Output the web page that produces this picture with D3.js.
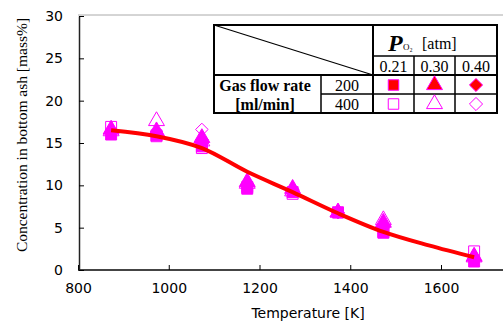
<!DOCTYPE html>
<html>
<head>
<meta charset="utf-8">
<script src="https://cdn.jsdelivr.net/npm/d3@7"></script>
<style>
  body { margin: 0; background: #fff; }
  svg text { fill: #000; }
</style>
</head>
<body>
<svg width="503" height="323"></svg>
<script>
// Temperatures of the runs [K]
const temps = [873, 973, 1073, 1173, 1273, 1373, 1473, 1673];

// Concentration in bottom ash [mass%], one list per run condition
const sq200 = [16.0, 15.9, 14.6, 9.6, 9.2, 6.8, 4.4, 1.0];
const tri200 = [16.6, 16.4, 15.6, 10.4, 9.6, 6.8, 5.6, 1.6];
const dia200 = [16.2, 16.1, 15.4, 10.1, 9.4, 6.8, 5.0, 1.3];
const sq400 = [16.9, 15.8, 14.4, 9.8, 9.0, 6.8, 4.5, 2.2];
const tri400 = [16.4, 17.6, 15.2, 10.2, 9.3, 6.8, 5.9, 1.5];
const dia400 = [16.3, 16.3, 16.6, 10.0, 9.5, 6.8, 5.2, 1.4];

// Fitted curve
const fitT = [873, 973, 1073, 1173, 1273, 1373, 1473, 1573, 1673];
const fitC = [16.5, 15.8, 14.4, 11.6, 9.2, 6.7, 4.5, 2.9, 1.5];

const xTicks = [800, 1000, 1200, 1400, 1600];
const yTicks = [0, 5, 10, 15, 20, 25, 30];

const svg = d3.select('svg');
const x = d3.scaleLinear().domain([800, 1600]).range([78, 441]);
const y = d3.scaleLinear().domain([0, 30]).range([270, 16]);
const sans = 'DejaVu Sans, Verdana, sans-serif';
const serif = 'Liberation Serif, Times New Roman, serif';

// frame top (light grey)
svg.append('line').attr('x1', 78).attr('x2', 503).attr('y1', 15).attr('y2', 15)
  .attr('stroke', '#aaa').attr('stroke-width', 1);

// axes, ticks pointing inwards
const xAxis = svg.append('g').attr('transform', 'translate(0,270)')
  .call(d3.axisBottom(x).tickValues(xTicks).tickFormat(d3.format('d'))
    .tickSizeInner(-5).tickSizeOuter(0).tickPadding(13));
xAxis.select('.domain').attr('d', 'M78,0H503').attr('stroke', '#444').attr('stroke-width', 2);
const yAxis = svg.append('g').attr('transform', 'translate(79,0)')
  .call(d3.axisLeft(y).tickValues(yTicks).tickSizeInner(-5).tickSizeOuter(0).tickPadding(16));
yAxis.select('.domain').attr('stroke', '#222').attr('stroke-width', 1.5);
svg.selectAll('.tick text').attr('font-family', sans).attr('font-size', 14).attr('fill', '#000');

svg.append('text').attr('x', 308).attr('y', 318).attr('text-anchor', 'middle')
  .attr('font-family', sans).attr('font-size', 14).text('Temperature [K]');
svg.append('text').attr('transform', 'translate(27,135) rotate(-90)').attr('text-anchor', 'middle')
  .attr('font-family', serif).attr('font-size', 15.5).text('Concentration in bottom ash [mass%]');

// markers
const mag = '#ff00ff';
const series = [
  { v: sq200, type: d3.symbolSquare, fill: mag, size: 120 },
  { v: tri200, type: d3.symbolTriangle, fill: mag, size: 110 },
  { v: dia200, type: d3.symbolDiamond2, fill: mag, size: 100 },
  { v: sq400, type: d3.symbolSquare, fill: 'none', size: 120 },
  { v: tri400, type: d3.symbolTriangle, fill: 'none', size: 110 },
  { v: dia400, type: d3.symbolDiamond2, fill: 'none', size: 100 }
];
series.forEach(s => {
  svg.append('g').selectAll('path')
    .data(s.v.map((c, i) => [temps[i], c]))
    .enter().append('path')
    .attr('transform', d => `translate(${x(d[0])},${y(d[1])})`)
    .attr('d', d3.symbol().type(s.type).size(s.size))
    .attr('fill', s.fill).attr('stroke', mag).attr('stroke-width', 1);
});

// fit line
svg.append('path')
  .datum(fitT.map((t, i) => [t, fitC[i]]))
  .attr('d', d3.line().x(d => x(d[0])).y(d => y(d[1])).curve(d3.curveCatmullRom.alpha(0.5)))
  .attr('fill', 'none').attr('stroke', '#ff0000').attr('stroke-width', 4);

// legend table
const lg = svg.append('g').attr('font-family', serif).attr('font-size', 16);
lg.append('rect').attr('x', 214).attr('y', 25).attr('width', 283).attr('height', 88)
  .attr('fill', '#fff').attr('stroke', '#000').attr('stroke-width', 2);
const ln = (x1, y1, x2, y2, w) => lg.append('line').attr('x1', x1).attr('y1', y1).attr('x2', x2).attr('y2', y2)
  .attr('stroke', '#000').attr('stroke-width', w || 1.5);
ln(214, 25, 373, 75, 1.2);
ln(373, 25, 373, 113, 2);
ln(373, 56, 497, 56);
ln(214, 75, 497, 75, 2);
ln(321, 75, 321, 113);
ln(321, 94, 497, 94);
ln(414, 56, 414, 113);
ln(455, 56, 455, 113);

lg.append('text').attr('x', 388).attr('y', 51).attr('font-size', 24).attr('font-style', 'italic').attr('font-weight', 'bold').text('P');
lg.append('text').attr('x', 403).attr('y', 50).attr('font-size', 9).text('O₂');
lg.append('text').attr('x', 422).attr('y', 49).attr('font-size', 16).text('[atm]');
const pCols = ['0.21', '0.30', '0.40'];
const colX = [393.5, 434.5, 476];
pCols.forEach((p, i) => lg.append('text').attr('x', colX[i]).attr('y', 72)
  .attr('text-anchor', 'middle').text(p));
lg.append('text').attr('x', 265).attr('y', 91).attr('text-anchor', 'middle').attr('font-weight', 'bold').text('Gas flow rate');
lg.append('text').attr('x', 265).attr('y', 110).attr('text-anchor', 'middle').attr('font-weight', 'bold').text('[ml/min]');
lg.append('text').attr('x', 347).attr('y', 91).attr('text-anchor', 'middle').text('200');
lg.append('text').attr('x', 347).attr('y', 110).attr('text-anchor', 'middle').text('400');

const legTypes = [d3.symbolSquare, d3.symbolTriangle, d3.symbolDiamond2];
legTypes.forEach((t, i) => {
  lg.append('path').attr('transform', `translate(${colX[i]},85)`)
    .attr('d', d3.symbol().type(t).size(110)).attr('fill', '#ff0000').attr('stroke', mag).attr('stroke-width', 1);
  lg.append('path').attr('transform', `translate(${colX[i]},104)`)
    .attr('d', d3.symbol().type(t).size(110)).attr('fill', 'none').attr('stroke', mag).attr('stroke-width', 1);
});
</script>
</body>
</html>
